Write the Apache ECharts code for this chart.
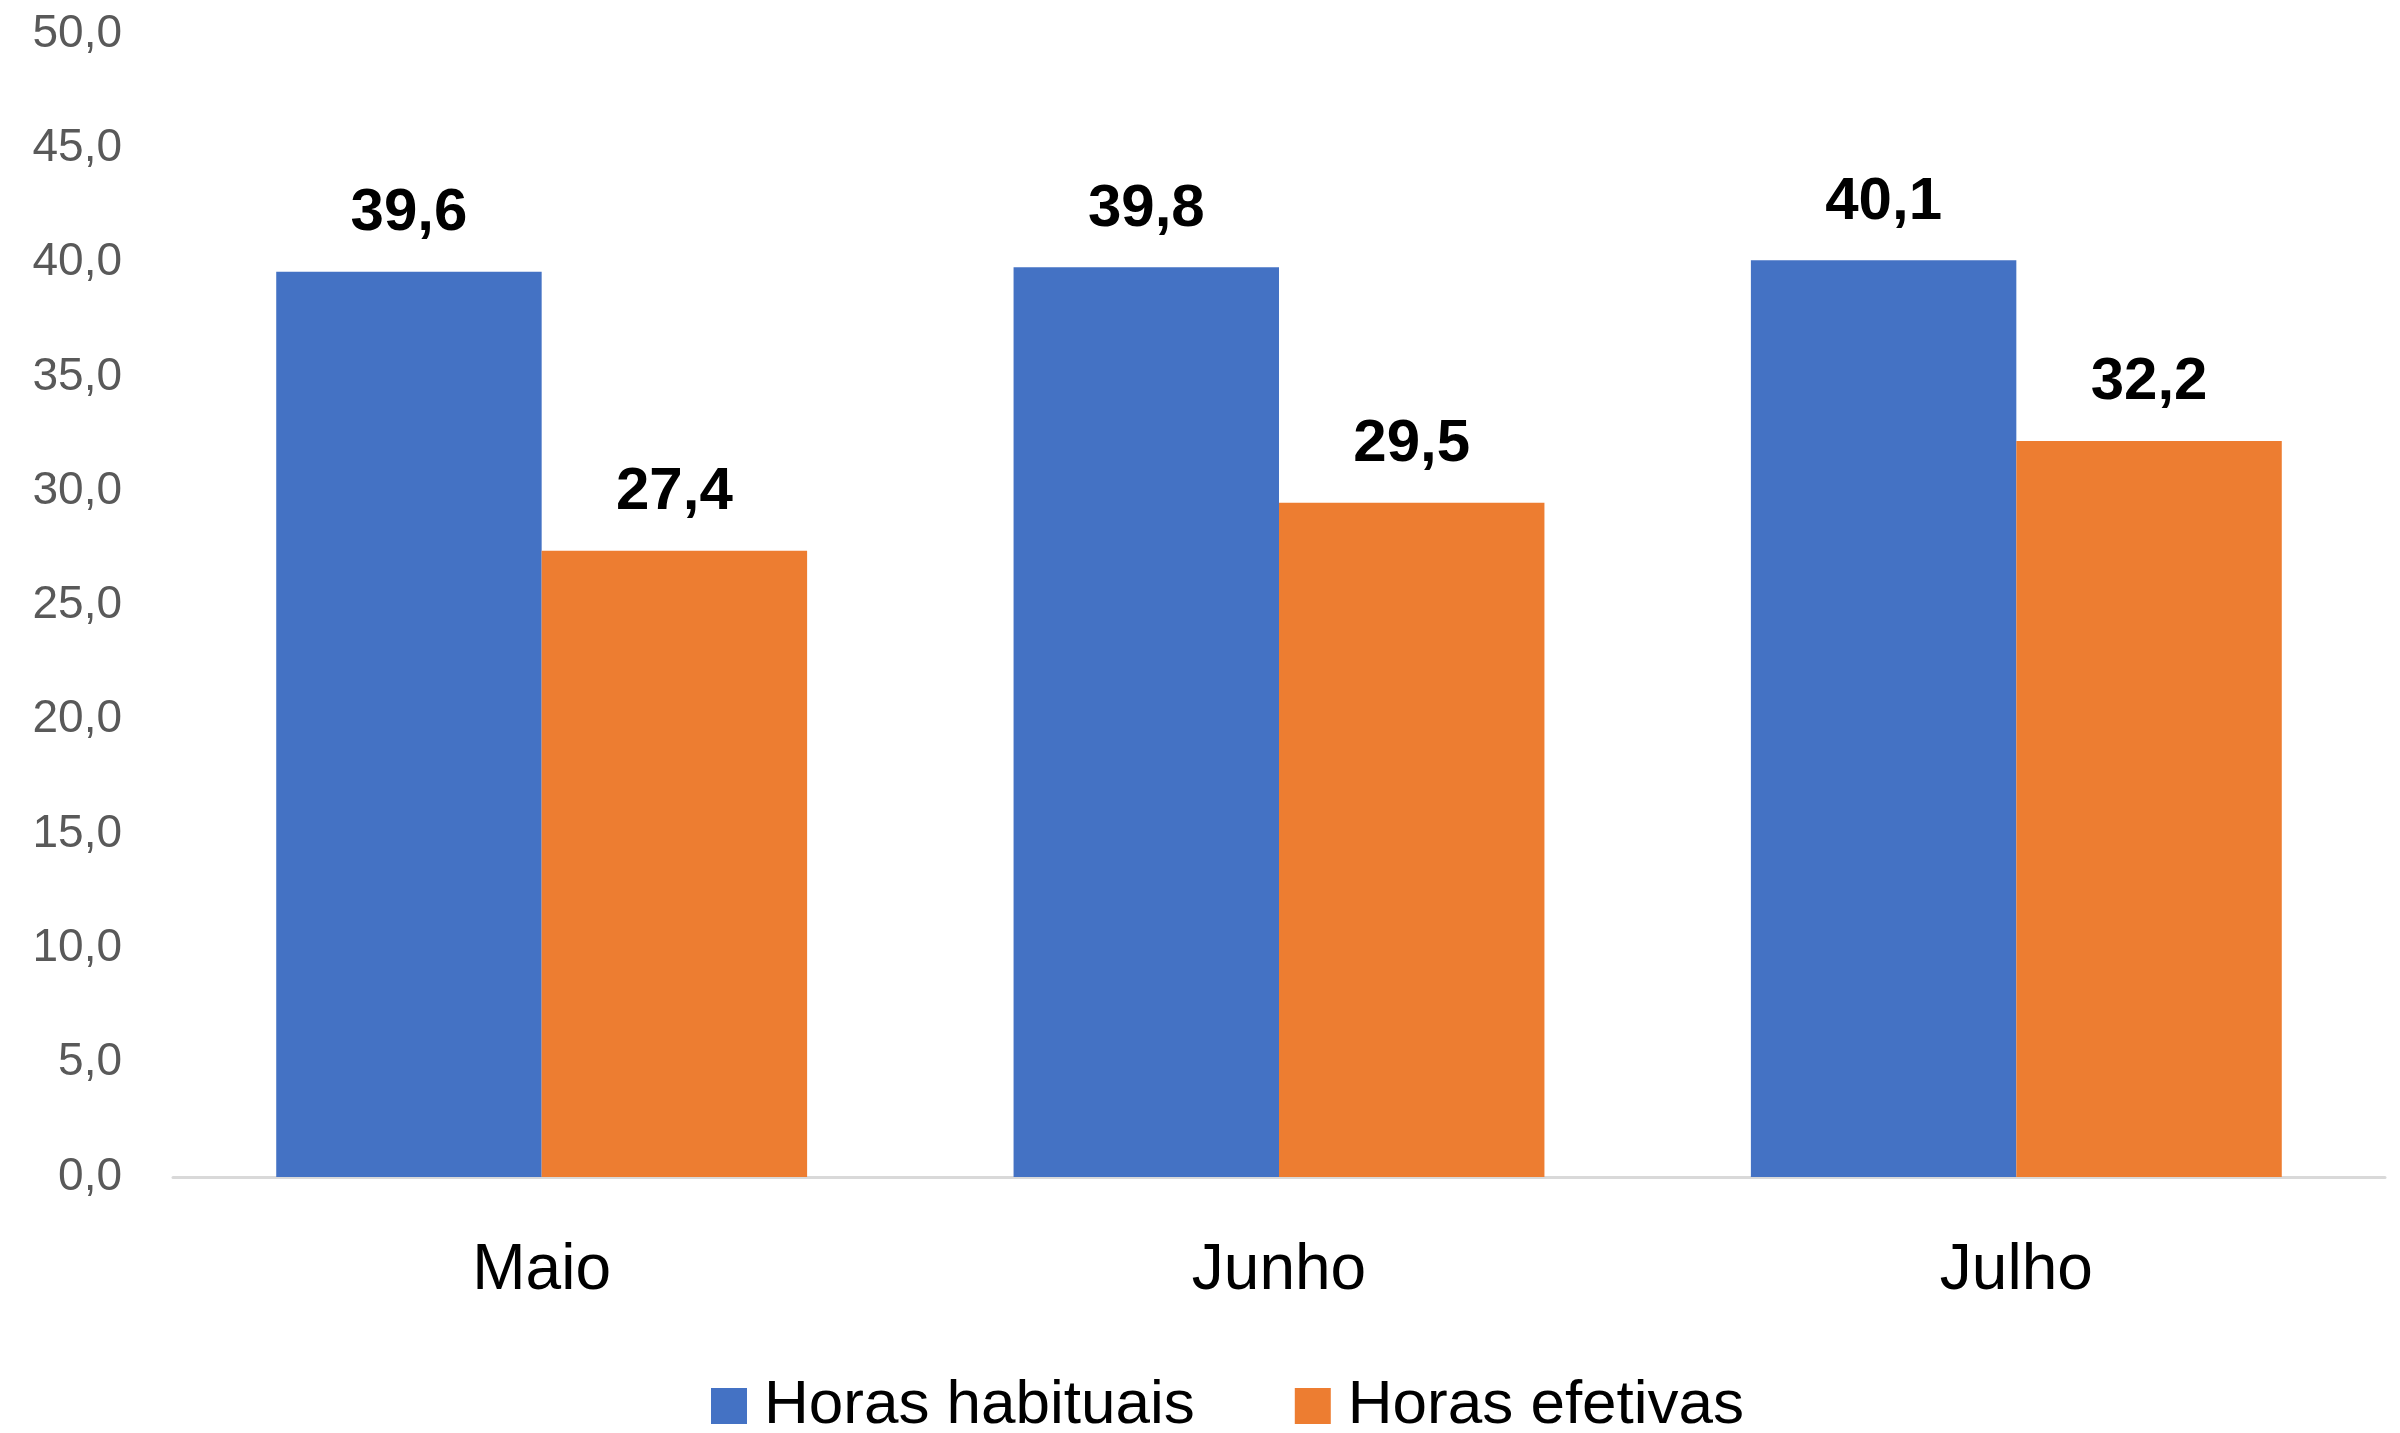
<!DOCTYPE html>
<html>
<head>
<meta charset="utf-8">
<script src="https://cdn.jsdelivr.net/npm/echarts@6/dist/echarts.min.js"></script>
<style>
  html, body { margin: 0; padding: 0; background: #fff; }
  #chart { width: 2400px; height: 1433px; }
</style>
</head>
<body>
<div id="chart"></div>
<script>
const months = ['Maio', 'Junho', 'Julho']
const horasHabituais = [39.6, 39.8, 40.1]
const horasEfetivas = [27.4, 29.5, 32.2]
const seriesNames = ['Horas habituais', 'Horas efetivas']

const fmt = v => Number(v).toFixed(1).replace('.', ',')
const font = '"Liberation Sans", Arial, sans-serif'

const chart = echarts.init(document.getElementById('chart'))

const dataLabel = {
  show: true,
  position: 'top',
  distance: 28,
  color: '#000',
  fontWeight: 'bold',
  fontSize: 60,
  fontFamily: font,
  formatter: p => fmt(p.value)
}

chart.setOption({
  animation: false,
  grid: {
    left: 173,
    right: 15,
    top: 34,
    bottom: 256
  },
  legend: {
    data: seriesNames,
    left: 706,
    top: 1370,
    icon: 'rect',
    itemWidth: 36,
    itemHeight: 36,
    itemGap: 100,
    textStyle: {
      fontSize: 62,
      fontFamily: font,
      color: '#000',
      padding: [0, 0, 0, 12]
    }
  },
  xAxis: {
    type: 'category',
    data: months,
    axisTick: { show: false },
    axisLine: { lineStyle: { color: '#d9d9d9', width: 3 } },
    axisLabel: {
      fontSize: 64,
      fontFamily: font,
      color: '#000',
      margin: 62
    }
  },
  yAxis: {
    type: 'value',
    min: 0,
    max: 50,
    interval: 5,
    splitLine: { show: false },
    axisLine: { show: false },
    axisTick: { show: false },
    axisLabel: {
      fontSize: 46,
      fontFamily: font,
      color: '#595959',
      margin: 51,
      formatter: v => fmt(v)
    }
  },
  series: [
    {
      name: seriesNames[0],
      type: 'bar',
      data: horasHabituais,
      barGap: '0%',
      barCategoryGap: '28%',
      itemStyle: { color: '#4472C4' },
      label: dataLabel
    },
    {
      name: seriesNames[1],
      type: 'bar',
      data: horasEfetivas,
      itemStyle: { color: '#ED7D31' },
      label: dataLabel
    }
  ]
})
</script>
</body>
</html>
